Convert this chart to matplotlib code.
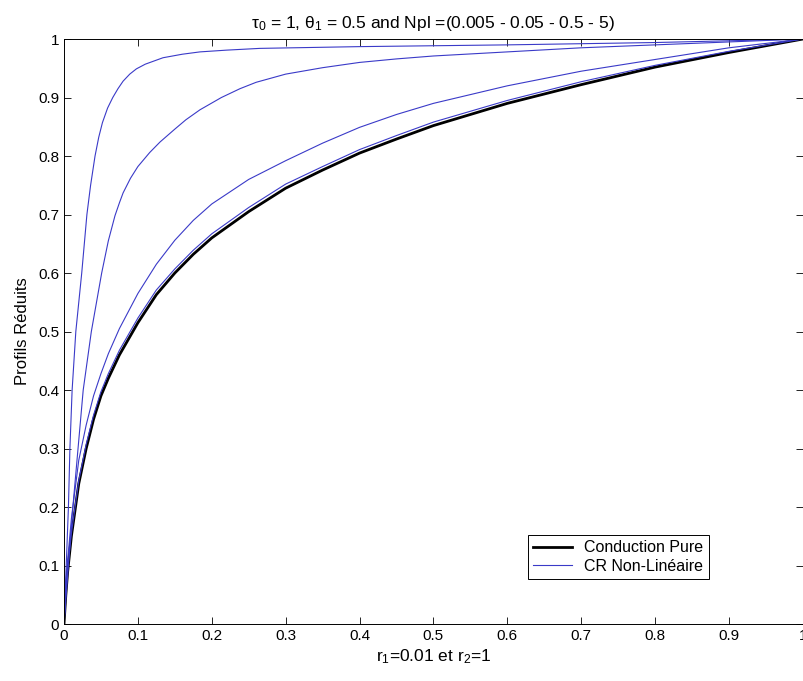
import matplotlib
matplotlib.use("Agg")
import matplotlib.pyplot as plt

plt.rcParams['font.family'] = ['Liberation Sans', 'DejaVu Sans']
plt.rcParams['mathtext.fontset'] = 'custom'
plt.rcParams['mathtext.rm'] = 'Liberation Sans'
plt.rcParams['mathtext.it'] = 'Liberation Sans:italic'

# Conduction pure (courbe noire)
x_cond = [0, 0.0025, 0.005, 0.01, 0.02, 0.03, 0.04, 0.05, 0.06, 0.075, 0.1, 0.125,
          0.15, 0.175, 0.2, 0.25, 0.3, 0.35, 0.4, 0.45, 0.5, 0.6, 0.7, 0.8, 0.9, 1.0]
y_cond = [0, 0.05, 0.09, 0.15, 0.24, 0.30, 0.35, 0.39, 0.42, 0.46, 0.515, 0.563,
          0.60, 0.632, 0.66, 0.705, 0.745, 0.776, 0.805, 0.829, 0.852, 0.89, 0.922,
          0.952, 0.977, 1.0]

# CR non-lineaire, Npl = 0.005
x_npl1 = [0, 0.003, 0.006, 0.008, 0.011, 0.016, 0.024, 0.031, 0.036, 0.042, 0.047,
          0.052, 0.059, 0.066, 0.073, 0.08, 0.089, 0.098, 0.11, 0.134, 0.16, 0.184,
          0.22, 0.265, 0.4, 0.6, 0.8, 1.0]
y_npl1 = [0, 0.1, 0.2, 0.3, 0.4, 0.5, 0.6, 0.7, 0.75, 0.8, 0.832,
          0.857, 0.882, 0.9, 0.915, 0.928, 0.94, 0.949, 0.957, 0.968, 0.974, 0.978,
          0.981, 0.984, 0.987, 0.99, 0.994, 1.0]

# Npl = 0.05
x_npl2 = [0, 0.006, 0.012, 0.019, 0.026, 0.037, 0.051, 0.06, 0.069, 0.075, 0.08,
          0.09, 0.1, 0.116, 0.13, 0.15, 0.165, 0.184, 0.213, 0.238, 0.26, 0.3,
          0.35, 0.4, 0.45, 0.5, 0.6, 0.7, 0.8, 0.9, 1.0]
y_npl2 = [0, 0.1, 0.2, 0.3, 0.4, 0.5, 0.6, 0.655, 0.698, 0.72, 0.737,
          0.762, 0.782, 0.806, 0.824, 0.846, 0.862, 0.879, 0.9, 0.915, 0.926, 0.94,
          0.951, 0.96, 0.966, 0.971, 0.978, 0.985, 0.99, 0.995, 1.0]

# Npl = 0.5
x_npl3 = [0, 0.0025, 0.005, 0.01, 0.02, 0.03, 0.04, 0.05, 0.06, 0.075, 0.1, 0.125,
          0.15, 0.175, 0.2, 0.25, 0.3, 0.35, 0.4, 0.45, 0.5, 0.6, 0.7, 0.8, 0.9, 1.0]
y_npl3 = [0, 0.065, 0.11, 0.18, 0.28, 0.34, 0.39, 0.428, 0.462, 0.505, 0.565, 0.615,
          0.656, 0.69, 0.718, 0.76, 0.792, 0.822, 0.849, 0.871, 0.89, 0.92, 0.945,
          0.965, 0.985, 1.0]

# Npl = 5
x_npl4 = [0, 0.0025, 0.005, 0.01, 0.02, 0.03, 0.04, 0.05, 0.06, 0.075, 0.1, 0.125,
          0.15, 0.175, 0.2, 0.25, 0.3, 0.35, 0.4, 0.45, 0.5, 0.6, 0.7, 0.8, 0.9, 1.0]
y_npl4 = [0, 0.053, 0.095, 0.155, 0.245, 0.307, 0.357, 0.397, 0.428, 0.468, 0.523,
          0.571, 0.607, 0.639, 0.667, 0.712, 0.752, 0.782, 0.811, 0.835, 0.858, 0.895,
          0.927, 0.955, 0.979, 1.0]

fig = plt.figure(figsize=(8.04, 6.81), dpi=100)
ax = fig.add_axes([0.0796, 0.0837, 0.919, 0.859])

blue = '#3a3ac8'
ax.plot(x_cond, y_cond, color='black', linewidth=2.0, label='Conduction Pure')
ax.plot(x_npl1, y_npl1, color=blue, linewidth=0.8, label='CR Non-Linéaire')
ax.plot(x_npl2, y_npl2, color=blue, linewidth=0.8)
ax.plot(x_npl3, y_npl3, color=blue, linewidth=0.8)
ax.plot(x_npl4, y_npl4, color=blue, linewidth=0.8)

ax.set_xlim(0, 1)
ax.set_ylim(0, 1)
ticks = [i / 10 for i in range(11)]
tick_labels = ['0', '0.1', '0.2', '0.3', '0.4', '0.5', '0.6', '0.7', '0.8', '0.9', '1']
ax.set_xticks(ticks)
ax.set_yticks(ticks)
ax.set_xticklabels(tick_labels)
ax.set_yticklabels(tick_labels)
ax.tick_params(direction='in', top=True, right=True, labelsize=11, length=5, width=0.6)
for s in ax.spines.values():
    s.set_linewidth(0.7)

ax.set_title(r'$\mathrm{\tau_0}$ = 1, $\mathrm{\theta_1}$ = 0.5 and Npl =(0.005 - 0.05 - 0.5 - 5)',
             fontsize=12.5, pad=8)
ax.set_xlabel(r'r$_1$=0.01 et r$_2$=1', fontsize=12.5, labelpad=3)
ax.set_ylabel('Profils Réduits', fontsize=12, labelpad=6)

leg = ax.legend(loc='lower right', bbox_to_anchor=(0.884, 0.063), fontsize=11.5,
                fancybox=False, framealpha=1, edgecolor='black', borderpad=0.35,
                handlelength=2.4, labelspacing=0.2)
leg.get_frame().set_linewidth(0.7)

fig.savefig('out.png', dpi=100)
